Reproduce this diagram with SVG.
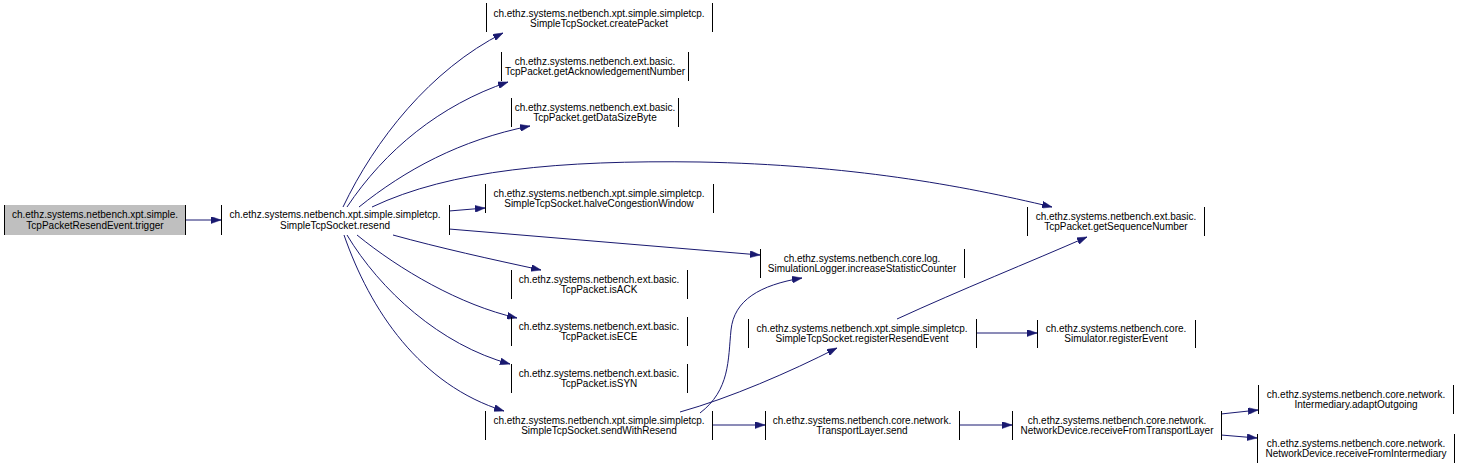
<svg xmlns="http://www.w3.org/2000/svg" width="1458" height="467" viewBox="0 0 1458 467">
<style>
  .bg { fill: #ffffff; }
  .side { stroke: #000000; stroke-width: 1; fill: none; }
  .root { fill: #bfbfbf; stroke: none; }
  .lbl { font-family: "Liberation Sans", Arial, Helvetica, sans-serif; font-size: 10px; fill: #000000; text-anchor: middle; }
  .edge { fill: none; stroke: #191970; stroke-width: 1; marker-end: url(#arr); }
</style>
<defs>
  <marker id="arr" viewBox="0 0 10 7" refX="10" refY="3.5" markerWidth="10" markerHeight="7" markerUnits="userSpaceOnUse" orient="auto">
    <path d="M0,0 L10,3.5 L0,7 Z" fill="#191970" stroke="#191970" stroke-width="0.5"/>
  </marker>
</defs>
<rect class="bg" x="0" y="0" width="1458" height="467"/>

<g id="connectors">
  <path class="edge" d="M186,220 L221,220"/>
  <path class="edge" d="M343,207 C375,140 430,70 503,33"/>
  <path class="edge" d="M347,207 C385,150 440,105 508,82"/>
  <path class="edge" d="M359,207 C405,170 460,140 530,126"/>
  <path class="edge" d="M372,207 C450,170 560,160 700,162 C850,165 960,185 1052,207"/>
  <path class="edge" d="M449,211 L485,208"/>
  <path class="edge" d="M449,229 L760,255"/>
  <path class="edge" d="M393,235 C440,248 490,259 541,270"/>
  <path class="edge" d="M357,235 C400,270 460,305 517,318"/>
  <path class="edge" d="M347,235 C380,290 440,345 510,364"/>
  <path class="edge" d="M344,235 C370,310 420,385 504,411"/>
  <path class="edge" d="M700,413 C730,390 728,360 731,330 C734,300 760,285 802,278"/>
  <path class="edge" d="M680,412 C730,398 790,372 837,348"/>
  <path class="edge" d="M897,319 C960,290 1030,262 1087,237"/>
  <path class="edge" d="M976,333 L1037,333"/>
  <path class="edge" d="M712,425 L765,425"/>
  <path class="edge" d="M959,425 L1012,425"/>
  <path class="edge" d="M1221,414 L1258,410"/>
  <path class="edge" d="M1221,435 L1257,438"/>
</g>

<g id="node-trigger">
  <rect class="root" x="4" y="205" width="182" height="30"/>
  <path class="side" d="M4.5,205 V235 M185.5,205 V235"/>
  <text class="lbl" x="95" y="218">ch.ethz.systems.netbench.xpt.simple.</text>
  <text class="lbl" x="95" y="229">TcpPacketResendEvent.trigger</text>
</g>
<g id="node-resend">
  <path class="side" d="M221.5,205 V235 M449.5,205 V235"/>
  <text class="lbl" x="335" y="218">ch.ethz.systems.netbench.xpt.simple.simpletcp.</text>
  <text class="lbl" x="335" y="229">SimpleTcpSocket.resend</text>
</g>
<g id="node-createPacket">
  <path class="side" d="M486.5,3 V32 M712.5,3 V32"/>
  <text class="lbl" x="599" y="17">ch.ethz.systems.netbench.xpt.simple.simpletcp.</text>
  <text class="lbl" x="599" y="27">SimpleTcpSocket.createPacket</text>
</g>
<g id="node-getAck">
  <path class="side" d="M501.5,52 V81 M688.5,52 V81"/>
  <text class="lbl" x="595" y="65">ch.ethz.systems.netbench.ext.basic.</text>
  <text class="lbl" x="595" y="75">TcpPacket.getAcknowledgementNumber</text>
</g>
<g id="node-getDataSize">
  <path class="side" d="M511.5,98 V127 M678.5,98 V127"/>
  <text class="lbl" x="595" y="111">ch.ethz.systems.netbench.ext.basic.</text>
  <text class="lbl" x="595" y="121">TcpPacket.getDataSizeByte</text>
</g>
<g id="node-halve">
  <path class="side" d="M485.5,184 V213 M713.5,184 V213"/>
  <text class="lbl" x="599" y="197">ch.ethz.systems.netbench.xpt.simple.simpletcp.</text>
  <text class="lbl" x="599" y="207">SimpleTcpSocket.halveCongestionWindow</text>
</g>
<g id="node-getSeq">
  <path class="side" d="M1027.5,207 V236 M1204.5,207 V236"/>
  <text class="lbl" x="1116" y="220">ch.ethz.systems.netbench.ext.basic.</text>
  <text class="lbl" x="1116" y="230">TcpPacket.getSequenceNumber</text>
</g>
<g id="node-increase">
  <path class="side" d="M760.5,249 V278 M964.5,249 V278"/>
  <text class="lbl" x="862" y="262">ch.ethz.systems.netbench.core.log.</text>
  <text class="lbl" x="862" y="272">SimulationLogger.increaseStatisticCounter</text>
</g>
<g id="node-registerResend">
  <path class="side" d="M748.5,319 V348 M976.5,319 V348"/>
  <text class="lbl" x="862" y="332">ch.ethz.systems.netbench.xpt.simple.simpletcp.</text>
  <text class="lbl" x="862" y="342">SimpleTcpSocket.registerResendEvent</text>
</g>
<g id="node-registerEvent">
  <path class="side" d="M1037.5,320 V348 M1195.5,320 V348"/>
  <text class="lbl" x="1116" y="332">ch.ethz.systems.netbench.core.</text>
  <text class="lbl" x="1116" y="342">Simulator.registerEvent</text>
</g>
<g id="node-isACK">
  <path class="side" d="M511.5,270 V299 M687.5,270 V299"/>
  <text class="lbl" x="599" y="283">ch.ethz.systems.netbench.ext.basic.</text>
  <text class="lbl" x="599" y="293">TcpPacket.isACK</text>
</g>
<g id="node-isECE">
  <path class="side" d="M511.5,317 V346 M687.5,317 V346"/>
  <text class="lbl" x="599" y="330">ch.ethz.systems.netbench.ext.basic.</text>
  <text class="lbl" x="599" y="340">TcpPacket.isECE</text>
</g>
<g id="node-isSYN">
  <path class="side" d="M511.5,364 V393 M687.5,364 V393"/>
  <text class="lbl" x="599" y="377">ch.ethz.systems.netbench.ext.basic.</text>
  <text class="lbl" x="599" y="387">TcpPacket.isSYN</text>
</g>
<g id="node-sendWithResend">
  <path class="side" d="M485.5,411 V440 M712.5,411 V440"/>
  <text class="lbl" x="599" y="424">ch.ethz.systems.netbench.xpt.simple.simpletcp.</text>
  <text class="lbl" x="599" y="434">SimpleTcpSocket.sendWithResend</text>
</g>
<g id="node-transportSend">
  <path class="side" d="M765.5,411 V440 M959.5,411 V440"/>
  <text class="lbl" x="862" y="424">ch.ethz.systems.netbench.core.network.</text>
  <text class="lbl" x="862" y="434">TransportLayer.send</text>
</g>
<g id="node-recvTransport">
  <path class="side" d="M1012.5,411 V440 M1221.5,411 V440"/>
  <text class="lbl" x="1117" y="424">ch.ethz.systems.netbench.core.network.</text>
  <text class="lbl" x="1117" y="434">NetworkDevice.receiveFromTransportLayer</text>
</g>
<g id="node-adaptOutgoing">
  <path class="side" d="M1258.5,385 V414 M1453.5,385 V414"/>
  <text class="lbl" x="1356" y="398">ch.ethz.systems.netbench.core.network.</text>
  <text class="lbl" x="1356" y="408">Intermediary.adaptOutgoing</text>
</g>
<g id="node-recvIntermediary">
  <path class="side" d="M1257.5,434 V463 M1454.5,434 V463"/>
  <text class="lbl" x="1356" y="447">ch.ethz.systems.netbench.core.network.</text>
  <text class="lbl" x="1356" y="457">NetworkDevice.receiveFromIntermediary</text>
</g>
</svg>
